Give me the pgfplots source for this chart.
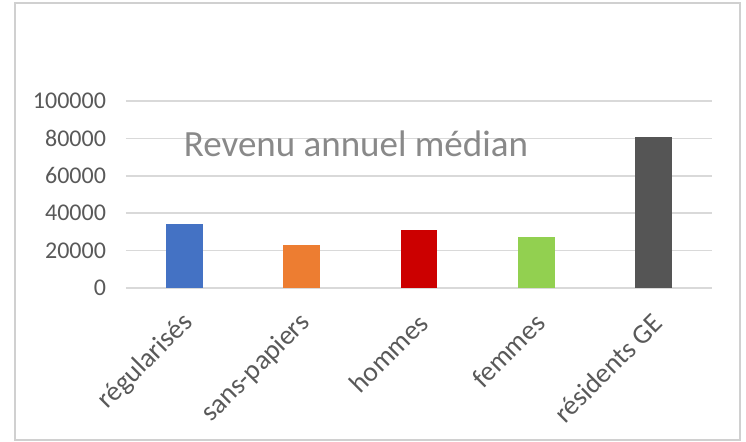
\documentclass[border=0pt]{standalone}
\usepackage{fontspec}
\setmainfont{Carlito}
\usepackage{pgfplots}
\pgfplotsset{compat=1.18}

\definecolor{cBlue}{HTML}{4472C4}
\definecolor{cOrange}{HTML}{ED7D31}
\definecolor{cRed}{HTML}{CC0000}
\definecolor{cGreen}{HTML}{92D050}
\definecolor{cDark}{HTML}{555555}
\definecolor{tickgray}{HTML}{595959}
\definecolor{titlegray}{HTML}{898989}
\definecolor{gridgray}{HTML}{D9D9D9}
\definecolor{framegray}{HTML}{D0D0D0}

\begin{document}
\begin{tikzpicture}
% page size and outer frame, relative to the axis' lower left corner
\path (-63pt,-76.5pt) rectangle (310pt,144pt);
\draw[framegray, line width=1pt] (-55.5pt,-76pt) rectangle (307pt,142.75pt);
\begin{axis}[
  at={(0,0)}, anchor=south west,
  scale only axis, width=293pt, height=93.5pt,
  xmin=-0.5, xmax=4.5, ymin=0, ymax=100000,
  xtick={0,1,2,3,4},
  xticklabels={régularisés,sans-papiers,hommes,femmes,résidents GE},
  ytick={0,20000,40000,60000,80000,100000},
  scaled y ticks=false,
  ymajorgrids, grid style={gridgray, line width=0.75pt},
  axis line style={draw=none}, major tick style={draw=none},
  /pgf/number format/fixed, /pgf/number format/precision=0,
  /pgf/number format/assume math mode=true,
  /pgf/number format/set thousands separator={},
  yticklabel style={font=\fontsize{12}{14}\selectfont, text=tickgray, xshift=-6.5pt},
  xticklabel style={font=\fontsize{13.8}{16}\selectfont, text=tickgray,
    xshift=4.5pt, yshift=-8.6pt, rotate=45, anchor=east},
  ybar, bar width=0.315, bar shift=0pt,
  clip=false,
]
\addplot[fill=cBlue, draw=none] coordinates {(0,34200)};
\addplot[fill=cOrange, draw=none] coordinates {(1,22900)};
\addplot[fill=cRed, draw=none] coordinates {(2,31000)};
\addplot[fill=cGreen, draw=none] coordinates {(3,27200)};
\addplot[fill=cDark, draw=none] coordinates {(4,81000)};
\end{axis}
\node[anchor=base, text=titlegray, font=\fontsize{18.5}{22}\selectfont, inner sep=0pt]
  at (115pt,66pt) {Revenu annuel médian};
\end{tikzpicture}
\end{document}
